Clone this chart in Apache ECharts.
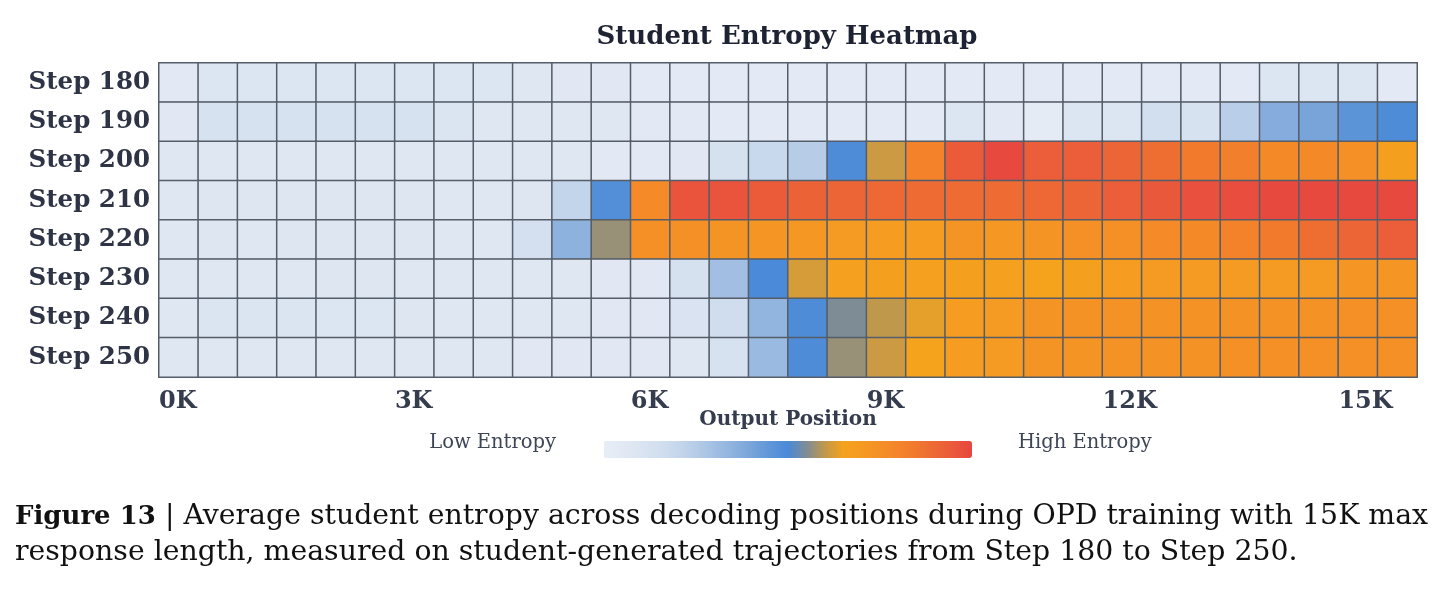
<!DOCTYPE html>
<html>
<head>
<meta charset="utf-8">
<title>Student Entropy Heatmap</title>
<script src="https://cdn.jsdelivr.net/npm/echarts@6/dist/echarts.min.js"></script>
<style>
  html, body { margin: 0; padding: 0; background: #fff; }
  #main { width: 1443px; height: 589px; }
</style>
</head>
<body>
<div id="main"></div>
<script>
// rows top to bottom
var steps = ['Step 180', 'Step 190', 'Step 200', 'Step 210', 'Step 220', 'Step 230', 'Step 240', 'Step 250'];
// 32 buckets of 500 tokens each
var positions = [];
for (var p = 0; p < 32; p++) positions.push(p * 500);
var tickLabels = ['0K', '3K', '6K', '9K', '12K', '15K'];

// normalized entropy per bucket, one array per step
var step180 = [0.05,0.09,0.09,0.09,0.09,0.09,0.09,0.09,0.09,0.07,0.06,0.06,0.04,0.04,0.04,0.04,0.04,0.04,0.04,0.04,0.04,0.04,0.04,0.04,0.04,0.04,0.04,0.04,0.09,0.09,0.09,0.04];
var step190 = [0.06,0.12,0.12,0.12,0.12,0.12,0.12,0.10,0.07,0.07,0.07,0.07,0.05,0.05,0.04,0.04,0.04,0.04,0.04,0.04,0.09,0.05,0.03,0.09,0.09,0.15,0.12,0.24,0.37,0.40,0.46,0.49];
var step200 = [0.07,0.07,0.07,0.07,0.07,0.07,0.07,0.07,0.07,0.07,0.07,0.05,0.05,0.06,0.13,0.19,0.25,0.49,0.61,0.81,0.94,0.99,0.93,0.93,0.91,0.88,0.84,0.82,0.78,0.78,0.75,0.67];
var step210 = [0.07,0.08,0.08,0.08,0.08,0.08,0.08,0.07,0.07,0.08,0.21,0.48,0.77,0.96,0.96,0.94,0.92,0.91,0.90,0.89,0.89,0.89,0.90,0.91,0.93,0.95,0.97,0.98,0.99,0.99,0.99,0.99];
var step220 = [0.07,0.08,0.07,0.08,0.08,0.08,0.08,0.07,0.07,0.14,0.35,0.57,0.75,0.75,0.73,0.72,0.71,0.70,0.69,0.69,0.73,0.71,0.73,0.75,0.75,0.77,0.78,0.81,0.84,0.88,0.91,0.93];
var step230 = [0.07,0.07,0.07,0.07,0.08,0.08,0.07,0.07,0.07,0.07,0.07,0.06,0.06,0.13,0.30,0.50,0.62,0.66,0.67,0.66,0.67,0.66,0.65,0.67,0.69,0.70,0.70,0.70,0.70,0.70,0.72,0.72];
var step240 = [0.07,0.10,0.10,0.10,0.09,0.09,0.08,0.07,0.07,0.07,0.07,0.06,0.06,0.11,0.16,0.34,0.49,0.55,0.60,0.635,0.69,0.70,0.73,0.74,0.74,0.74,0.74,0.74,0.74,0.74,0.75,0.75];
var step250 = [0.07,0.07,0.07,0.07,0.07,0.07,0.07,0.07,0.07,0.06,0.06,0.06,0.06,0.07,0.12,0.32,0.49,0.57,0.61,0.65,0.69,0.70,0.73,0.73,0.74,0.74,0.74,0.75,0.75,0.75,0.75,0.75];
var rows = [step180, step190, step200, step210, step220, step230, step240, step250];

var colorScale = ['#e8eef7','#e2e9f4','#dbe4f1','#d2dfef','#c6d7ec','#b6cce7','#a2bfe3','#8eb2de','#78a4d9','#6096d8','#4a8ad8',
                  '#7e8c96','#c0984c','#f5a21d','#f59a22','#f49026','#f4842a','#f0782e','#ed6835','#ea583b','#e8453f'];

var cells = [];
for (var r = 0; r < rows.length; r++) {
  for (var c = 0; c < rows[r].length; c++) {
    cells.push([c, r, rows[r][c]]);
  }
}

var serifBold = 'DejaVu Serif';
var chart = echarts.init(document.getElementById('main'));
chart.setOption({
  backgroundColor: '#fff',
  animation: false,
  grid: { left: 159, right: 26, top: 63, bottom: 212 },
  xAxis: [{
    type: 'category',
    data: positions,
    axisLine: { show: false },
    axisTick: { show: false },
    axisLabel: { show: false },
    splitLine: { show: false }
  }, {
    type: 'value',
    position: 'bottom',
    min: 0,
    max: 16000,
    interval: 3000,
    axisLine: { show: false },
    axisTick: { show: false },
    splitLine: { show: false },
    axisLabel: {
      showMaxLabel: false,
      align: 'left',
      margin: 13,
      fontFamily: serifBold,
      fontWeight: 'bold',
      fontSize: 24,
      color: '#353c4e',
      formatter: function (v) { return tickLabels[v / 3000]; }
    },
    name: 'Output Position',
    nameLocation: 'middle',
    nameGap: 33,
    nameMoveOverlap: false,
    nameTextStyle: { fontFamily: serifBold, fontWeight: 'bold', fontSize: 20, color: '#353c4e' }
  }],
  yAxis: {
    type: 'category',
    data: steps,
    inverse: true,
    axisLine: { show: false },
    axisTick: { show: false },
    splitLine: { show: false },
    axisLabel: {
      margin: 9,
      fontFamily: serifBold,
      fontWeight: 'bold',
      fontSize: 24.5,
      color: '#2e3445'
    }
  },
  visualMap: {
    type: 'continuous',
    min: 0,
    max: 1,
    orient: 'horizontal',
    left: 604,
    top: 441,
    padding: 0,
    itemWidth: 17,
    itemHeight: 368,
    calculable: false,
    hoverLink: false,
    inRange: { color: colorScale }
  },
  graphic: [{
    type: 'text',
    x: 787,
    y: 37,
    style: {
      text: 'Student Entropy Heatmap',
      fontFamily: serifBold,
      fontWeight: 'bold',
      fontSize: 26,
      fill: '#1e2333',
      textAlign: 'center',
      textVerticalAlign: 'middle'
    }
  }, {
    type: 'text',
    x: 556,
    y: 443,
    style: {
      text: 'Low Entropy',
      fontFamily: serifBold,
      fontSize: 19.5,
      fill: '#3d4556',
      textAlign: 'right',
      textVerticalAlign: 'middle'
    }
  }, {
    type: 'text',
    x: 1018,
    y: 443,
    style: {
      text: 'High Entropy',
      fontFamily: serifBold,
      fontSize: 19.5,
      fill: '#3d4556',
      textAlign: 'left',
      textVerticalAlign: 'middle'
    }
  }, {
    type: 'text',
    x: 15,
    y: 499,
    style: {
      text: '{b|Figure 13} | Average student entropy across decoding positions during OPD training with 15K max\nresponse length, measured on student-generated trajectories from Step 180 to Step 250.',
      fontFamily: 'DejaVu Serif',
      fontSize: 28.35,
      lineHeight: 36,
      fill: '#111',
      rich: {
        b: { fontFamily: 'DejaVu Serif', fontWeight: 'bold', fontSize: 26, lineHeight: 36, fill: '#111' }
      }
    }
  }],
  series: [{
    type: 'heatmap',
    data: cells,
    itemStyle: { borderColor: '#555d68', borderWidth: 1.5 },
    emphasis: { disabled: true }
  }]
});
</script>
</body>
</html>
